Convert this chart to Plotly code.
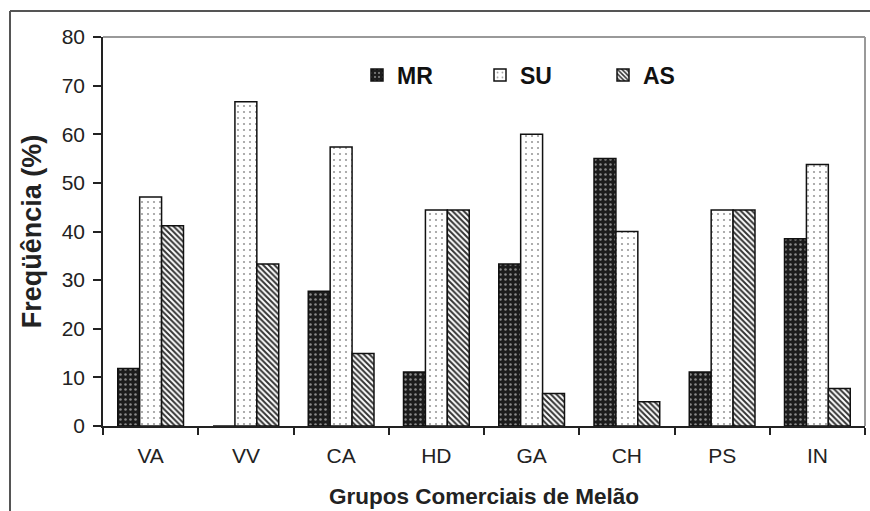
import plotly.graph_objects as go

categories = ["VA", "VV", "CA", "HD", "GA", "CH", "PS", "IN"]
mr_values = [11.8, 0.0, 27.7, 11.1, 33.3, 55.0, 11.1, 38.5]
su_values = [47.1, 66.7, 57.4, 44.4, 60.0, 40.0, 44.4, 53.8]
as_values = [41.2, 33.3, 14.9, 44.4, 6.7, 5.0, 44.4, 7.7]
y_ticks = [0, 10, 20, 30, 40, 50, 60, 70, 80]

FONT = "Liberation Sans, Arial, sans-serif"

L, R, T, B = 103, 5, 37, 85
W, H = 870, 511
PW = W - L - R
PH = H - T - B

def px_x(p):
    return (p - L) / PW

def px_y(p):
    return (H - B - p) / PH

fig = go.Figure()
fig.add_trace(go.Bar(
    name="MR", x=categories, y=mr_values,
    marker=dict(color="#1c1c1c", line=dict(color="#111", width=1.5),
                pattern=dict(shape=".", fgcolor="#8a8a8a", bgcolor="#1c1c1c",
                             size=5, solidity=0.2, fillmode="replace")),
))
fig.add_trace(go.Bar(
    name="SU", x=categories, y=su_values,
    marker=dict(color="white", line=dict(color="#111", width=1.5),
                pattern=dict(shape=".", fgcolor="#9a9a9a", bgcolor="white",
                             size=6, solidity=0.1, fillmode="replace")),
))
fig.add_trace(go.Bar(
    name="AS", x=categories, y=as_values,
    marker=dict(color="white", line=dict(color="#111", width=1.5),
                pattern=dict(shape="\\", fgcolor="#333", bgcolor="white",
                             size=4, solidity=0.5, fillmode="replace")),
))

fig.update_layout(
    width=W, height=H,
    margin=dict(l=L, r=R, t=T, b=B),
    paper_bgcolor="white", plot_bgcolor="white",
    barmode="group", bargap=0.31, bargroupgap=0,
    font=dict(family=FONT, color="#222", size=21),
    showlegend=True,
    legend=dict(orientation="h", x=px_x(357), y=px_y(75), xanchor="left", yanchor="middle",
                entrywidth=78, entrywidthmode="pixels",
                font=dict(family=FONT, size=23, color="#111", weight="bold"),
                bgcolor="rgba(0,0,0,0)", traceorder="normal"),
    xaxis=dict(
        showline=True, linecolor="#222", linewidth=1.5,
        ticks="outside", ticklen=7, tickcolor="#222", tickwidth=1.5,
        tickson="boundaries", ticklabelstandoff=10,
        tickfont=dict(family=FONT, size=21, color="#222"),
        title=dict(text="Grupos Comerciais de Melão", standoff=22,
                   font=dict(family=FONT, size=22.5, color="#222", weight="bold")),
    ),
    yaxis=dict(
        range=[0, 80], tickvals=y_ticks, showgrid=False, zeroline=False,
        showline=True, linecolor="#222", linewidth=1.5,
        ticks="outside", ticklen=8, tickcolor="#222", tickwidth=1.5,
        ticklabelstandoff=4,
        tickfont=dict(family=FONT, size=21, color="#222"),
        title=dict(text="Freqüência (%)", standoff=12,
                   font=dict(family=FONT, size=27, color="#222", weight="bold")),
    ),
    shapes=[
        dict(type="line", xref="paper", yref="paper", x0=0, x1=1, y0=1, y1=1,
             line=dict(color="#999", width=2)),
        dict(type="line", xref="paper", yref="paper", x0=1, x1=1, y0=0, y1=1,
             line=dict(color="#999", width=2)),
        dict(type="line", xref="paper", yref="paper", x0=px_x(10), x1=px_x(875),
             y0=px_y(11), y1=px_y(11), line=dict(color="#555", width=2)),
        dict(type="line", xref="paper", yref="paper", x0=px_x(10), x1=px_x(10),
             y0=px_y(11), y1=px_y(515), line=dict(color="#555", width=2)),
    ],
)

fig.write_html("out.html", config={"displayModeBar": False},
               post_script="document.body.style.margin='0';document.body.style.overflow='hidden';")
